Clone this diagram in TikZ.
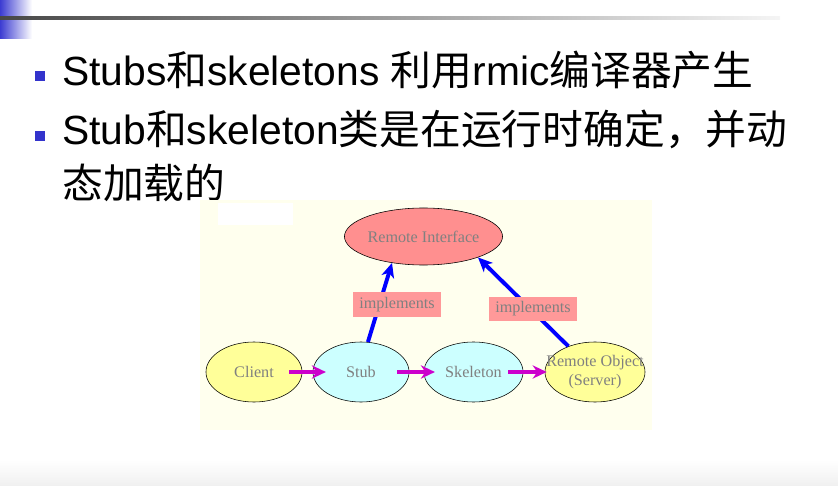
\documentclass[tikz,border=0pt]{standalone}
\usepackage{fontspec}
\setmainfont{Liberation Sans}
\newfontfamily\cjkfont{Noto Sans CJK SC}
\newfontfamily\diafont{Liberation Serif}
\usetikzlibrary{shapes.geometric, arrows.meta, positioning, calc}
\definecolor{cBullet}{RGB}{51,51,204}
\definecolor{cBar}{RGB}{60,60,210}
\definecolor{cPaper}{RGB}{255,255,238}
\definecolor{cYellow}{RGB}{255,255,153}
\definecolor{cCyan}{RGB}{204,255,255}
\definecolor{cPink}{RGB}{255,143,143}
\definecolor{cLabel}{RGB}{255,153,153}
\definecolor{cCall}{RGB}{204,0,204}
\definecolor{cGreyText}{RGB}{128,128,128}
\newcommand{\zh}[1]{{\cjkfont #1}}
\tikzset{
	obj/.style   ={ellipse, draw=black, thin, minimum width=2.4cm, minimum height=1.5cm, inner sep=0pt, align=center, text=cGreyText, font=\diafont\fontsize{11.5}{13}\selectfont},
	lbl/.style   ={rectangle, fill=cLabel, minimum width=2.2cm, minimum height=0.62cm, inner sep=0pt, text=cGreyText, font=\diafont\fontsize{11.5}{13}\selectfont},
	impl/.style  ={-{Stealth[length=3.6mm, width=3.2mm, inset=1mm]}, line width=2.8pt, draw=blue},
	call/.style  ={-{Stealth[length=3.5mm, width=3.3mm]}, line width=3.4pt, draw=cCall, shorten <=-0.33cm, shorten >=-0.33cm},
	% slide text
	bullet/.style={rectangle, fill=cBullet, minimum size=0.27cm, inner sep=0pt},
	slide/.style ={anchor=base west, inner sep=0pt, font=\fontsize{29}{35}\selectfont},
}
\begin{document}
\begin{tikzpicture}[x=0.025cm, y=-0.025cm]
	\useasboundingbox (0,0) rectangle (838,486);
	% slide frame
	\shade[left color=cBar, right color=white] (0,0) rectangle (32,39);
	\shade[left color=black!72, right color=black!4] (0,17) rectangle (780,20);
	\shade[top color=white, bottom color=black!6] (0,460) rectangle (838,486);
	% bullets
	\node[bullet] (b1) at (40,76) {};
	\node[bullet] (b2) at (40,136) {};
	\node[slide] (l1) at (62,86) {Stubs\zh{和}skeletons \zh{利用}rmic\zh{编译器产生}};
	\node[slide] (l2) at (62,145) {Stub\zh{和}skeleton\zh{类是在运行时确定，并动}};
	\node[slide] (l3) at (62,199) {\zh{态加载的}};
	% diagram
	\fill[cPaper] (200,200) rectangle (652,430);
	\fill[white] (218,203) rectangle (293,225);
	\node[obj, fill=cPink, minimum width=3.325cm, minimum height=1.425cm] (ri) at (423.5,236.5) {Remote Interface};
	\node[obj, fill=cYellow] (client) at (254,372) {Client};
	\node[obj, fill=cCyan] (stub) at (361,372) {Stub};
	\node[obj, fill=cCyan, minimum width=2.475cm] (skel) at (473.5,372) {Skeleton};
	\node[obj, fill=cYellow, minimum width=2.5cm, inner xsep=-0.4cm] (robj) at (595,372) {Remote Object\\(Server)};
	\draw[call] (client) -- (stub);
	\draw[call, shorten <=-0.3cm, shorten >=-0.28cm] (stub) -- (skel);
	\draw[call, shorten <=-0.38cm, shorten >=-0.05cm] (skel) -- (robj);
	\draw[impl] (stub.77) -- (ri.220);
	\draw[impl] (robj.136) -- (ri.339);
	\node[lbl] (lab1) at (397,304.5) {implements};
	\node[lbl] (lab2) at (533,309) {implements};
\end{tikzpicture}
\end{document}
